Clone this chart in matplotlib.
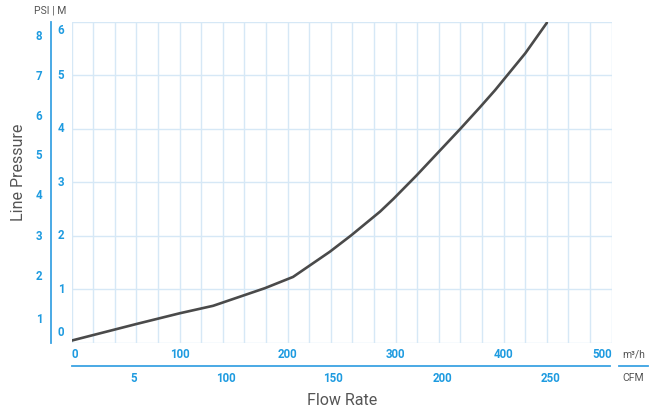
import matplotlib.pyplot as plt

# Curva de pressão (vazão em m³/h, pressão em M)
flow_m3h = [0, 60, 100, 131, 179, 205, 239, 259, 285.5, 298, 319, 359.5, 378, 392, 420, 440]
pressure_m = [0.04, 0.35, 0.55, 0.69, 1.02, 1.23, 1.70, 2.01, 2.45, 2.69, 3.12, 3.99, 4.40, 4.72, 5.41, 5.98]

# Rótulos dos eixos
m3h_ticks = [0, 100, 200, 300, 400, 500]
cfm_labels = ['5', '100', '150', '200', '250']
cfm_pos = [57, 143, 242, 343, 443]          # posição em m³/h
m_ticks = [0, 1, 2, 3, 4, 5, 6]
psi_labels = ['1', '2', '3', '4', '5', '6', '7', '8']
psi_pos = [0.44, 1.23, 1.99, 2.76, 3.50, 4.22, 4.98, 5.73]   # posição em M

blue = '#1e9be0'
line_blue = '#3aa3e3'
grid_col = '#d6e8f6'
gray = '#555555'

plt.rcParams['font.family'] = ['Roboto', 'DejaVu Sans']

fig = plt.figure(figsize=(6.62, 4.15), dpi=100)
ax = fig.add_axes([0.1083, 0.1742, 0.8157, 0.7735])
ax.set_xlim(0, 500)
ax.set_ylim(0, 6)
for s in ax.spines.values():
    s.set_visible(False)
ax.set_xticks(range(0, 501, 20))
ax.set_yticks(m_ticks)
ax.tick_params(length=0, labelbottom=False, labelleft=False)
ax.grid(True, color=grid_col, linewidth=1.0)
ax.set_axisbelow(True)

ax.plot(flow_m3h, pressure_m, color='#4a4a4a', linewidth=1.9, solid_capstyle='round',
        solid_joinstyle='round', zorder=3)

xt = ax.get_xaxis_transform()
yt = ax.get_yaxis_transform()
lab_kw = dict(color=blue, fontsize=8.3, fontweight='bold')

# eixo inferior m³/h
for v in m3h_ticks:
    ha = 'left' if v == m3h_ticks[0] else ('right' if v == m3h_ticks[-1] else 'center')
    ax.text(v, -0.038, str(v), transform=xt, ha=ha, va='center', **lab_kw)
# eixo inferior CFM
for lab, p in zip(cfm_labels, cfm_pos):
    ax.text(p, -0.110, lab, transform=xt, ha='center', va='center', **lab_kw)
ax.plot([0, 0.997], [-0.0717, -0.0717], transform=ax.transAxes, color=line_blue,
        linewidth=1.3, clip_on=False)
ax.plot([1.0135, 1.067], [-0.0717, -0.0717], transform=ax.transAxes, color=line_blue,
        linewidth=1.3, clip_on=False)
ax.text(1.040, -0.038, 'm³/h', transform=ax.transAxes, ha='center', va='center',
        color=gray, fontsize=7.5)
ax.text(1.040, -0.110, 'CFM', transform=ax.transAxes, ha='center', va='center',
        color=gray, fontsize=7.5)

# eixo esquerdo M
for v in m_ticks:
    va = 'bottom' if v == m_ticks[0] else ('top' if v == m_ticks[-1] else 'center')
    off = 0.07 if v == m_ticks[0] else (-0.05 if v == m_ticks[-1] else 0)
    ax.text(-0.0198, v + off, str(v), transform=yt, ha='center', va=va, **lab_kw)
# eixo esquerdo PSI
for lab, p in zip(psi_labels, psi_pos):
    ax.text(-0.0606, p, lab, transform=yt, ha='center', va='center', **lab_kw)
ax.plot([-0.039, -0.039], [0, 1], transform=ax.transAxes, color=line_blue,
        linewidth=1.3, clip_on=False)

ax.text(-0.040, 1.036, 'PSI | M', transform=ax.transAxes, ha='center', va='center',
        color=gray, fontsize=7.5)
ax.text(-0.0994, 0.532, 'Line Pressure', transform=ax.transAxes, rotation=90,
        ha='center', va='center', color=gray, fontsize=11.5)
ax.text(0.5, -0.1785, 'Flow Rate', transform=ax.transAxes, ha='center', va='center',
        color=gray, fontsize=11.5)

fig.savefig('out.png', dpi=100)
